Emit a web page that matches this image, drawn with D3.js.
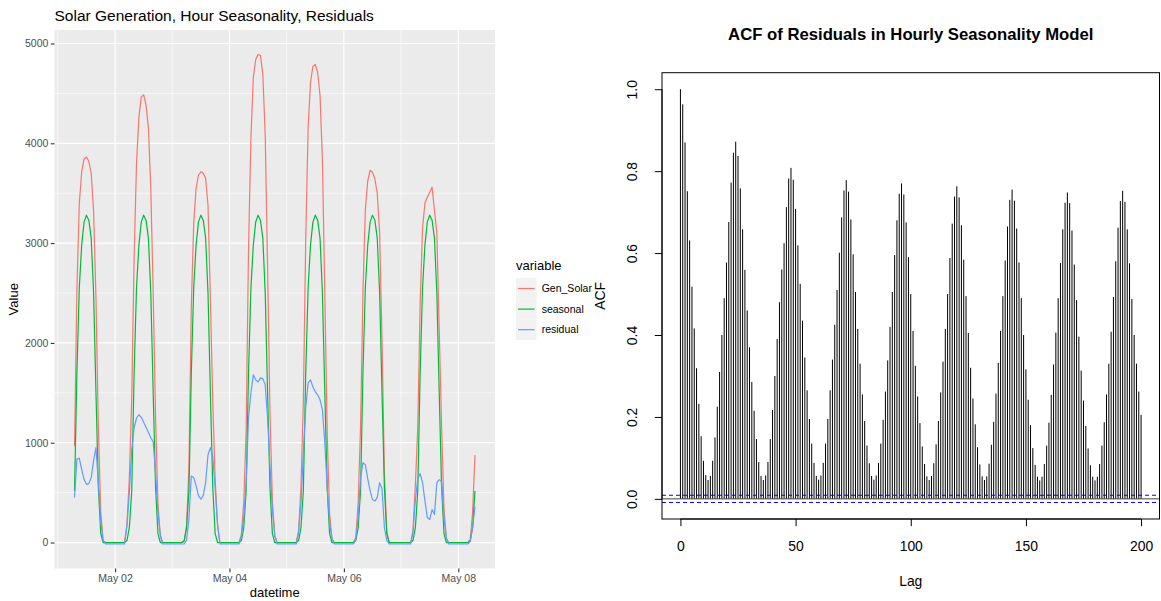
<!DOCTYPE html>
<html lang="en">
<head>
<meta charset="UTF-8">
<title>Solar Generation and ACF</title>
<style>
  body { margin: 0; background: #fff; }
  svg { display: block; font-family: "Liberation Sans", Arial, sans-serif; }
</style>
</head>
<body>
<script src="https://cdn.jsdelivr.net/npm/d3@7/dist/d3.min.js"></script>
<script>
// ---------- data: hourly values, 2019-05-01 07:00 .. 2019-05-08 07:00 (UTC) ----------
const startTime = Date.UTC(2019, 4, 1, 7)
const seriesNames = ['Gen_Solar', 'seasonal', 'residual']

const genSolar = [
  966, 2533, 3396, 3713, 3843, 3863, 3820, 3700, 3320, 2450, 1150, 310, 20, 0, 0, 0, 0,
  0, 0, 0, 0, 0, 186, 650, 1446, 2850, 3795, 4260, 4465, 4485, 4385, 4155, 3550, 2510, 1250, 390, 70, 0, 0, 0, 0,
  0, 0, 0, 0, 0, 5, 170, 749, 2366, 3200, 3550, 3680, 3715, 3700, 3650, 3380, 2450, 1410, 630, 180, 0, 0, 0, 0,
  0, 0, 0, 0, 0, 80, 400, 1116, 2950, 4050, 4660, 4840, 4890, 4880, 4690, 4080, 2750, 1310, 420, 70, 0, 0, 0, 0,
  0, 0, 0, 0, 0, 120, 550, 1416, 3050, 4150, 4610, 4770, 4790, 4710, 4480, 3830, 2500, 1100, 290, 40, 0, 0, 0, 0,
  0, 0, 0, 0, 0, 50, 400, 1166, 2500, 3330, 3620, 3730, 3710, 3645, 3500, 3100, 2040, 700, 110, 0, 0, 0, 0, 0,
  0, 0, 0, 0, 0, 120, 580, 1156, 2390, 3150, 3400, 3460, 3510, 3560, 3330, 3100, 2130, 1160, 340, 40, 0, 0, 0, 0,
  0, 0, 0, 0, 0, 30, 300, 876
]
const seasonal = [
  516, 1700, 2550, 2980, 3210, 3280, 3230, 3050, 2500, 1500, 550, 90, 0, 0, 0, 0, 0,
  0, 0, 0, 0, 0, 20, 150, 516, 1700, 2550, 2980, 3210, 3280, 3230, 3050, 2500, 1500, 550, 90, 0, 0, 0, 0, 0,
  0, 0, 0, 0, 0, 20, 150, 516, 1700, 2550, 2980, 3210, 3280, 3230, 3050, 2500, 1500, 550, 90, 0, 0, 0, 0, 0,
  0, 0, 0, 0, 0, 20, 150, 516, 1700, 2550, 2980, 3210, 3280, 3230, 3050, 2500, 1500, 550, 90, 0, 0, 0, 0, 0,
  0, 0, 0, 0, 0, 20, 150, 516, 1700, 2550, 2980, 3210, 3280, 3230, 3050, 2500, 1500, 550, 90, 0, 0, 0, 0, 0,
  0, 0, 0, 0, 0, 20, 150, 516, 1700, 2550, 2980, 3210, 3280, 3230, 3050, 2500, 1500, 550, 90, 0, 0, 0, 0, 0,
  0, 0, 0, 0, 0, 20, 150, 516, 1700, 2550, 2980, 3210, 3280, 3230, 3050, 2500, 1500, 550, 90, 0, 0, 0, 0, 0,
  0, 0, 0, 0, 0, 20, 150, 516
]
const residual = [
  450, 833, 846, 733, 633, 583, 590, 650, 820, 950, 600, 220, 20, -15, -15, -15, -15,
  -15, -15, -15, -15, -15, 166, 500, 930, 1150, 1245, 1280, 1255, 1205, 1155, 1105, 1050, 1010, 700, 300, 70, -15, -15, -15, -15,
  -15, -15, -15, -15, -15, -15, 20, 233, 666, 650, 570, 470, 435, 470, 600, 880, 950, 860, 540, 180, -15, -15, -15, -15,
  -15, -15, -15, -15, -15, 60, 250, 600, 1250, 1500, 1680, 1630, 1610, 1650, 1640, 1580, 1250, 760, 330, 70, -15, -15, -15, -15,
  -15, -15, -15, -15, -15, 100, 400, 900, 1350, 1600, 1630, 1560, 1510, 1480, 1430, 1330, 1000, 550, 200, 40, -15, -15, -15, -15,
  -15, -15, -15, -15, -15, 30, 250, 650, 800, 780, 640, 520, 430, 415, 450, 600, 540, 150, 20, -15, -15, -15, -15, -15,
  -15, -15, -15, -15, -15, 100, 430, 640, 690, 600, 420, 250, 230, 330, 280, 600, 630, 610, 250, 40, -15, -15, -15, -15,
  -15, -15, -15, -15, -15, 10, 150, 360
]
const valueTicks = [0, 1000, 2000, 3000, 4000, 5000]

// ACF of residuals, lags 0..200
const acfValues = [
  1.000, 0.963, 0.870, 0.751, 0.631, 0.518, 0.416, 0.319, 0.232, 0.153, 0.093, 0.058, 0.046,
  0.056, 0.093, 0.150, 0.225, 0.310, 0.400, 0.490, 0.577, 0.676, 0.772, 0.845, 0.872,
  0.837, 0.758, 0.658, 0.559, 0.460, 0.370, 0.285, 0.215, 0.146, 0.090, 0.056, 0.046,
  0.057, 0.090, 0.146, 0.217, 0.300, 0.390, 0.480, 0.560, 0.624, 0.712, 0.782, 0.808,
  0.779, 0.708, 0.619, 0.525, 0.435, 0.345, 0.265, 0.195, 0.135, 0.088, 0.056, 0.047,
  0.057, 0.088, 0.135, 0.195, 0.265, 0.340, 0.425, 0.510, 0.601, 0.687, 0.753, 0.778,
  0.750, 0.682, 0.597, 0.505, 0.415, 0.330, 0.255, 0.190, 0.130, 0.087, 0.056, 0.047,
  0.057, 0.088, 0.135, 0.193, 0.262, 0.338, 0.420, 0.505, 0.595, 0.680, 0.745, 0.770,
  0.743, 0.675, 0.590, 0.500, 0.410, 0.325, 0.250, 0.185, 0.128, 0.085, 0.055, 0.046,
  0.056, 0.087, 0.133, 0.190, 0.260, 0.335, 0.415, 0.500, 0.588, 0.672, 0.738, 0.763,
  0.736, 0.668, 0.584, 0.495, 0.405, 0.320, 0.245, 0.182, 0.126, 0.084, 0.055, 0.046,
  0.055, 0.086, 0.132, 0.188, 0.257, 0.332, 0.410, 0.495, 0.582, 0.665, 0.730, 0.755,
  0.728, 0.660, 0.577, 0.490, 0.400, 0.316, 0.242, 0.180, 0.124, 0.083, 0.054, 0.045,
  0.054, 0.085, 0.130, 0.186, 0.254, 0.328, 0.406, 0.490, 0.576, 0.658, 0.723, 0.748,
  0.722, 0.655, 0.572, 0.485, 0.396, 0.313, 0.240, 0.178, 0.123, 0.082, 0.054, 0.045,
  0.054, 0.085, 0.130, 0.187, 0.255, 0.330, 0.408, 0.493, 0.580, 0.662, 0.727, 0.752,
  0.725, 0.658, 0.575, 0.488, 0.400, 0.330, 0.262, 0.205
]
const acfConf = 0.0088
const lagTicks = [0, 50, 100, 150, 200]
const acfTicks = [0, 0.2, 0.4, 0.6, 0.8, 1.0]

// ---------- svg ----------
const svg = d3.select('body').append('svg')
  .attr('width', 1161)
  .attr('height', 601)

// ================= left: ggplot style line chart =================
const times = genSolar.map((d, i) => new Date(startTime + i * 3600e3))
const series = [genSolar, seasonal, residual].map((vals, k) => ({
  name: seriesNames[k],
  values: vals.map((v, i) => ({ t: times[i], v: v }))
}))
const colors = d3.scaleOrdinal().domain(seriesNames).range(['#F8766D', '#00BA38', '#619CFF'])

const panel = { left: 54.5, right: 495, top: 30, bottom: 568.5 }
const tExt = d3.extent(times)
const tPad = (tExt[1] - tExt[0]) * 0.05
const x = d3.scaleUtc()
  .domain([new Date(+tExt[0] - tPad), new Date(+tExt[1] + tPad)])
  .range([panel.left, panel.right])
const allVals = genSolar.concat(seasonal, residual)
const vExt = d3.extent(allVals)
const vPad = (vExt[1] - vExt[0]) * 0.05
const y = d3.scaleLinear()
  .domain([vExt[0] - vPad, vExt[1] + vPad])
  .range([panel.bottom, panel.top])

const left = svg.append('g')
left.append('rect')
  .attr('x', panel.left).attr('y', panel.top)
  .attr('width', panel.right - panel.left).attr('height', panel.bottom - panel.top)
  .attr('fill', '#EBEBEB')

// grid
const dayMajor = [2, 4, 6, 8].map(d => new Date(Date.UTC(2019, 4, d)))
const dayMinor = [1, 3, 5, 7].map(d => new Date(Date.UTC(2019, 4, d)))
const valMinor = [500, 1500, 2500, 3500, 4500]
left.selectAll('.gy2').data(valMinor).enter().append('line')
  .attr('x1', panel.left).attr('x2', panel.right)
  .attr('y1', d => y(d)).attr('y2', d => y(d))
  .attr('stroke', '#fff').attr('stroke-width', 0.6)
left.selectAll('.gx2').data(dayMinor).enter().append('line')
  .attr('x1', d => x(d)).attr('x2', d => x(d))
  .attr('y1', panel.top).attr('y2', panel.bottom)
  .attr('stroke', '#fff').attr('stroke-width', 0.6)
left.selectAll('.gy').data(valueTicks).enter().append('line')
  .attr('x1', panel.left).attr('x2', panel.right)
  .attr('y1', d => y(d)).attr('y2', d => y(d))
  .attr('stroke', '#fff').attr('stroke-width', 1.2)
left.selectAll('.gx').data(dayMajor).enter().append('line')
  .attr('x1', d => x(d)).attr('x2', d => x(d))
  .attr('y1', panel.top).attr('y2', panel.bottom)
  .attr('stroke', '#fff').attr('stroke-width', 1.2)

// lines
const line = d3.line().x(d => x(d.t)).y(d => y(d.v))
left.selectAll('.series').data(series).enter().append('path')
  .attr('d', d => line(d.values))
  .attr('fill', 'none')
  .attr('stroke', d => colors(d.name))
  .attr('stroke-width', 1.2)
  .attr('stroke-linejoin', 'round')

// axes
const yAxis = left.append('g')
  .attr('transform', `translate(${panel.left},0)`)
  .call(d3.axisLeft(y).tickValues(valueTicks).tickSize(3.7).tickPadding(2.5).tickFormat(d3.format('d')))
const xAxis = left.append('g')
  .attr('transform', `translate(0,${panel.bottom})`)
  .call(d3.axisBottom(x).tickValues(dayMajor).tickSize(3.7).tickPadding(2.5)
    .tickFormat(d3.utcFormat('%b %d')))
;[yAxis, xAxis].forEach(g => {
  g.select('.domain').remove()
  g.selectAll('.tick line').attr('stroke', '#333333').attr('stroke-width', 1.1)
  g.selectAll('.tick text').attr('fill', '#4D4D4D')
    .style('font-size', '10.5px').style('font-family', '"Liberation Sans", Arial, sans-serif')
})

left.append('text')
  .attr('x', (panel.left + panel.right) / 2).attr('y', 597)
  .attr('text-anchor', 'middle').style('font-size', '13px')
  .text('datetime')
left.append('text')
  .attr('transform', `translate(18,${(panel.top + panel.bottom) / 2}) rotate(-90)`)
  .attr('text-anchor', 'middle').style('font-size', '13px')
  .text('Value')
left.append('text')
  .attr('x', panel.left).attr('y', 20.5)
  .style('font-size', '15.5px')
  .text('Solar Generation, Hour Seasonality, Residuals')

// legend
const legend = left.append('g').attr('transform', 'translate(516,0)')
legend.append('text').attr('x', 0).attr('y', 269.5)
  .style('font-size', '13px').text('variable')
const keys = legend.selectAll('.key').data(seriesNames).enter().append('g')
  .attr('transform', (d, i) => `translate(0,${278.2 + i * 20.6})`)
keys.append('rect').attr('width', 20.6).attr('height', 20.6).attr('fill', '#F2F2F2')
keys.append('line').attr('x1', 2).attr('x2', 18.6).attr('y1', 10.3).attr('y2', 10.3)
  .attr('stroke', d => colors(d)).attr('stroke-width', 1.2)
keys.append('text').attr('x', 25.7).attr('y', 14)
  .style('font-size', '10.5px').text(d => d)

// ================= right: base R style ACF plot =================
const box = { left: 662, right: 1159.5, top: 72.7, bottom: 519 }
const lags = acfValues.map((d, i) => i)
const xr = d3.scaleLinear().domain([-8, 208]).range([box.left, box.right])
const yLo = -acfConf, yHi = 1
const yPadR = (yHi - yLo) * 0.04
const yr = d3.scaleLinear().domain([yLo - yPadR, yHi + yPadR]).range([box.bottom, box.top])
const rFont = '13.9px'

const right = svg.append('g')
right.selectAll('.bar').data(acfValues).enter().append('line')
  .attr('x1', (d, i) => xr(lags[i])).attr('x2', (d, i) => xr(lags[i]))
  .attr('y1', yr(0)).attr('y2', d => yr(d))
  .attr('stroke', '#000').attr('stroke-width', 1)
right.append('line')
  .attr('x1', box.left).attr('x2', box.right)
  .attr('y1', yr(0)).attr('y2', yr(0))
  .attr('stroke', '#444').attr('stroke-width', 1)
;[acfConf, -acfConf].forEach(c => {
  right.append('line')
    .attr('x1', box.left).attr('x2', box.right)
    .attr('y1', yr(c)).attr('y2', yr(c))
    .attr('stroke', '#0000FF').attr('stroke-width', 1)
    .attr('stroke-dasharray', '4,3')
})
right.append('rect')
  .attr('x', box.left).attr('y', box.top)
  .attr('width', box.right - box.left).attr('height', box.bottom - box.top)
  .attr('fill', 'none').attr('stroke', '#000').attr('stroke-width', 1)

const xrAxis = right.append('g')
  .attr('transform', `translate(0,${box.bottom})`)
  .call(d3.axisBottom(xr).tickValues(lagTicks).tickSize(7.2).tickPadding(14.6).tickFormat(d3.format('d')))
const yrAxis = right.append('g')
  .attr('transform', `translate(${box.left},0)`)
  .call(d3.axisLeft(yr).tickValues(acfTicks).tickSize(7.2).tickFormat(d3.format('.1f')))
;[xrAxis, yrAxis].forEach(g => {
  g.select('.domain').remove()
  g.selectAll('.tick line').attr('stroke', '#000')
  g.selectAll('.tick text').attr('fill', '#000')
    .style('font-size', rFont).style('font-family', '"Liberation Sans", Arial, sans-serif')
})
// R draws the axis line only between the first and last ticks
xrAxis.append('line').attr('x1', xr(0)).attr('x2', xr(200)).attr('stroke', '#000')
yrAxis.append('line').attr('y1', yr(0)).attr('y2', yr(1)).attr('stroke', '#000')
yrAxis.selectAll('.tick text')
  .attr('x', null).attr('dy', null)
  .attr('transform', 'translate(-29,0) rotate(-90)')
  .attr('text-anchor', 'middle')
  .attr('dominant-baseline', 'middle')

right.append('text')
  .attr('x', xr(100)).attr('y', 586)
  .attr('text-anchor', 'middle').style('font-size', rFont)
  .text('Lag')
right.append('text')
  .attr('transform', `translate(601,${(box.top + box.bottom) / 2}) rotate(-90)`)
  .attr('text-anchor', 'middle').style('font-size', rFont)
  .attr('dominant-baseline', 'middle')
  .text('ACF')
right.append('text')
  .attr('x', (box.left + box.right) / 2).attr('y', 40)
  .attr('text-anchor', 'middle')
  .style('font-size', '16.7px').style('font-weight', 'bold')
  .text('ACF of Residuals in Hourly Seasonality Model')
</script>
</body>
</html>
